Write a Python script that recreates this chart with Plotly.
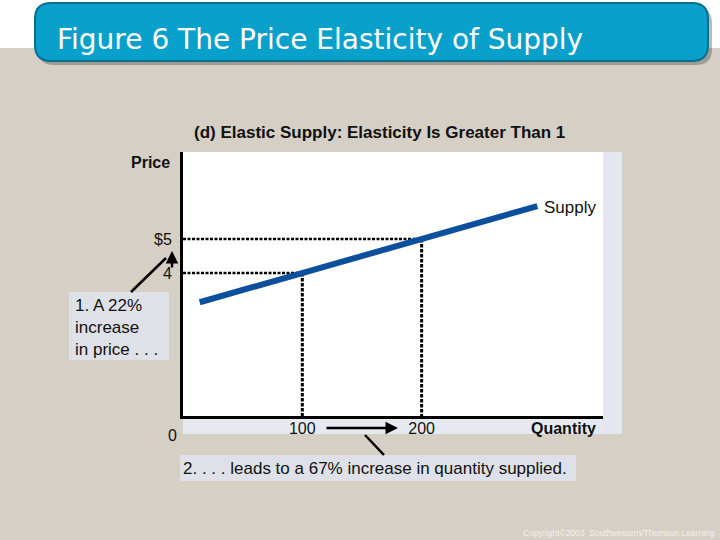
import plotly.graph_objects as go

# ---------------- data ----------------
supply_q = [14, 100, 200, 297]
supply_p = [3.14, 4, 5, 5.97]
points_q = [100, 200]
points_p = [4, 5]
x_tick_vals = [100, 200]
x_tick_text = ["100", "200"]
y_tick_vals = [4, 5]
y_tick_text = ["4", "$5"]
x_range = [0, 352]
y_range = [-0.206, 7.559]

# ---------------- layout helpers ----------------
W, H = 720, 540
L, R, T, B = 183, 603, 152, 416
BEIGE = "#d5cfc5"
FONT = "Liberation Sans, Arial, sans-serif"


def px(x, y):
    return (x - L) / (R - L), (B - y) / (B - T)


def rect(x0, y0, x1, y1, fill, layer="below", line=None):
    a, b = px(x0, y1)
    c, d = px(x1, y0)
    return dict(type="rect", xref="paper", yref="paper", x0=a, y0=b, x1=c, y1=d,
                fillcolor=fill, line=line or dict(width=0), layer=layer)


def seg(x0, y0, x1, y1, width=2, color="black"):
    a, b = px(x0, y0)
    c, d = px(x1, y1)
    return dict(type="line", xref="paper", yref="paper", x0=a, y0=b, x1=c, y1=d,
                line=dict(color=color, width=width), layer="above")


def rounded(x0, y0, x1, y1, r, fill, line):
    def P(x, y):
        u, v = px(x, y)
        return f"{u:.5f},{v:.5f}"
    path = (f"M {P(x0 + r, y0)} L {P(x1 - r, y0)} Q {P(x1, y0)} {P(x1, y0 + r)} "
            f"L {P(x1, y1 - r)} Q {P(x1, y1)} {P(x1 - r, y1)} "
            f"L {P(x0 + r, y1)} Q {P(x0, y1)} {P(x0, y1 - r)} "
            f"L {P(x0, y0 + r)} Q {P(x0, y0)} {P(x0 + r, y0)} Z")
    return dict(type="path", xref="paper", yref="paper", path=path,
                fillcolor=fill, line=line, layer="above")


fig = go.Figure()

# dotted guide lines
for q, p in zip(points_q, points_p):
    fig.add_trace(go.Scatter(x=[0, q], y=[p, p], mode="lines",
                             line=dict(color="black", width=2.5, dash="3px,1.5px"),
                             hoverinfo="skip", showlegend=False))
    fig.add_trace(go.Scatter(x=[q, q], y=[p, y_range[0]], mode="lines",
                             line=dict(color="black", width=3, dash="3.5px,1.5px"),
                             hoverinfo="skip", showlegend=False))

# supply curve
fig.add_trace(go.Scatter(x=supply_q, y=supply_p, mode="lines",
                         line=dict(color="#0c4f9c", width=6),
                         hoverinfo="skip", showlegend=False))

shapes = [
    rect(0, 0, W, 48, "white"),
    # plot shadow
    rect(603, 152, 622, 434, "#e4e7ef"),
    rect(183, 416, 603, 434, "#e6e9f0"),
    # text boxes
    rect(69, 292, 169, 360, "#dee1e7"),
    rect(180, 455, 576, 481, "#dee1e7"),
    # banner shadow + banner
    rounded(38, 7, 712, 65, 16, "rgba(60,60,60,0.35)", dict(width=0)),
    rounded(35, 3, 708, 61, 16, "#0aa0cc", dict(color="#086f8f", width=2)),
    # connectors
    seg(131, 292, 166, 258, 2.5),
    seg(365, 435, 384, 455, 2.5),
]

ann = []


def text(x, y, s, size=17, xanchor="left", bold=False, color="#111", font=FONT):
    u, v = px(x, y)
    ann.append(dict(xref="paper", yref="paper", x=u, y=v, text=f"<b>{s}</b>" if bold else s,
                    showarrow=False, xanchor=xanchor, yanchor="middle",
                    font=dict(family=font, size=size, color=color), align="left"))


text(55, 40, "Figure 6 The Price Elasticity of Supply", size=28, color="white",
     font="DejaVu Sans, Verdana, sans-serif")
text(379, 132, "(d) Elastic Supply: Elasticity Is Greater Than 1", size=17, xanchor="center", bold=True)
text(172, 162, "Price", size=16, xanchor="right", bold=True)
text(598, 428, "Quantity", size=16, xanchor="right", bold=True)
text(542, 207, "Supply", size=17)
text(179, 435, "0", size=16, xanchor="right")
text(73, 327, "1. A 22%<br>increase<br>in price . . .", size=17)
text(181, 468, "2. . . . leads to a 67% increase in quantity supplied.", size=17)
text(717, 533, "Copyright©2003  Southwestern/Thomson Learning", size=8.5, xanchor="right",
     color="#f4f1ea")

# arrows
u, v = px(172, 251)
ann.append(dict(xref="paper", yref="paper", x=u, y=v, ax=0, ay=18, text="",
                showarrow=True, arrowhead=2, arrowsize=1, arrowwidth=2.5, arrowcolor="black"))
u, v = px(398, 428)
ann.append(dict(xref="paper", yref="paper", x=u, y=v, ax=-73, ay=0, text="",
                showarrow=True, arrowhead=2, arrowsize=1, arrowwidth=2.5, arrowcolor="black"))

fig.update_layout(
    width=W, height=H,
    margin=dict(l=L, r=W - R, t=T, b=H - B, pad=0),
    paper_bgcolor=BEIGE, plot_bgcolor="white",
    shapes=shapes, annotations=ann,
    font=dict(family=FONT, size=16, color="#111"),
    showlegend=False,
)
fig.update_xaxes(range=x_range, showgrid=False, zeroline=False, showline=True,
                 linecolor="black", linewidth=3, tickvals=x_tick_vals, ticktext=x_tick_text,
                 ticks="", ticklabelstandoff=-4,
                 tickfont=dict(family=FONT, size=16, color="#111"), fixedrange=True)
fig.update_yaxes(range=y_range, showgrid=False, zeroline=False, showline=True,
                 linecolor="black", linewidth=3, tickvals=y_tick_vals, ticktext=y_tick_text,
                 ticks="", ticklabelstandoff=5,
                 tickfont=dict(family=FONT, size=16, color="#111"), fixedrange=True)

fig.write_html("out.html", config={"displayModeBar": False},
               post_script="document.body.style.margin='0';document.body.style.overflow='hidden';")
